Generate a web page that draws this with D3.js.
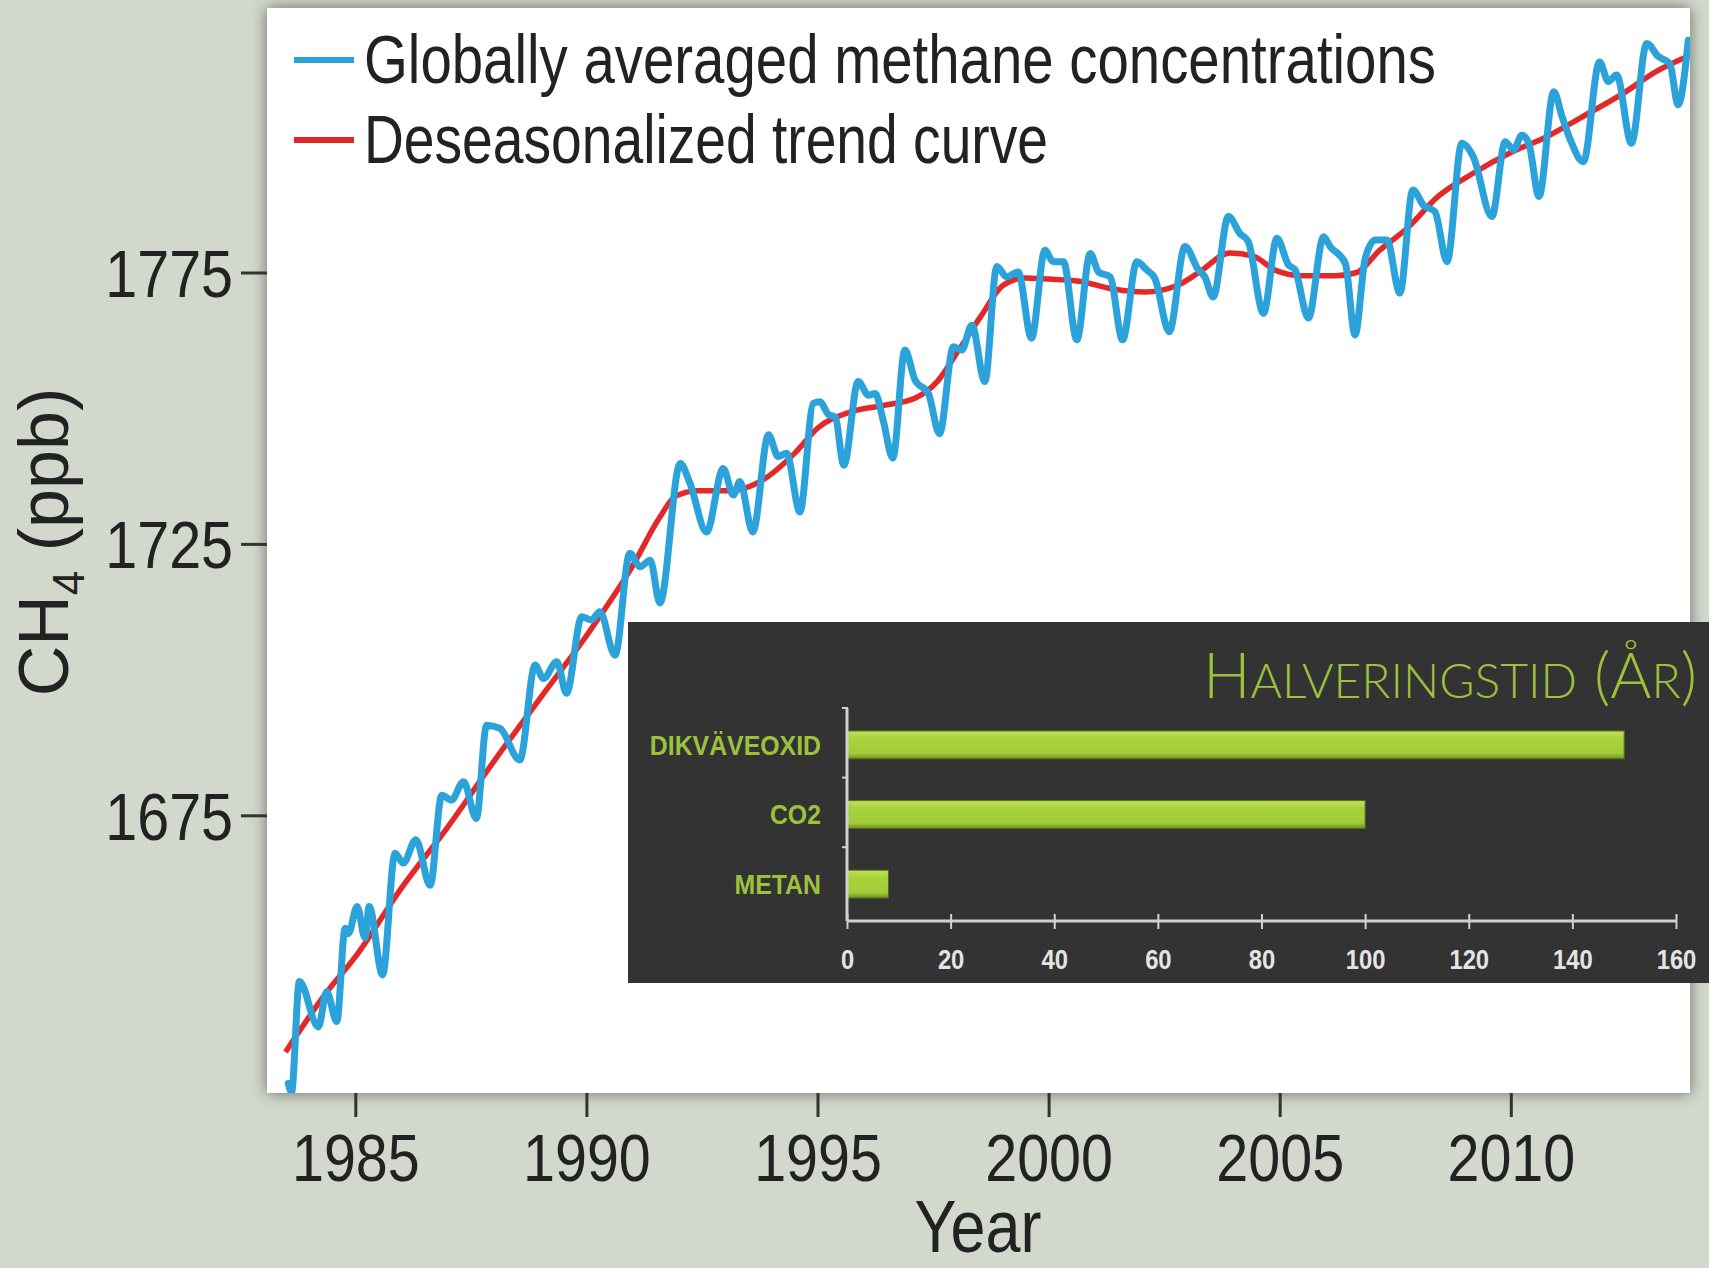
<!DOCTYPE html>
<html>
<head>
<meta charset="utf-8">
<script src="https://cdn.jsdelivr.net/npm/d3@7"></script>
<style>
  html, body { margin: 0; padding: 0; background: #d2d8cb; }
  svg { display: block; }
</style>
</head>
<body>
<svg id="chart" width="1709" height="1268"></svg>
<script>
// ---------------- DATA ----------------
const blueYears = [
  1983.55, 1983.62, 1983.79, 1984.20, 1984.38, 1984.60, 1984.78, 1984.85, 1985.04, 1985.21,
  1985.30, 1985.59, 1985.86, 1986.04, 1986.31, 1986.62, 1986.87, 1987.08, 1987.34, 1987.62,
  1987.84, 1988.13, 1988.56, 1988.89, 1989.07, 1989.36, 1989.57, 1989.90, 1990.11, 1990.29,
  1990.62, 1990.94, 1991.16, 1991.38, 1991.59, 1992.03, 1992.24, 1992.60, 1992.96, 1993.18,
  1993.32, 1993.60, 1993.94, 1994.15, 1994.33, 1994.62, 1994.91, 1995.05, 1995.24, 1995.38,
  1995.57, 1995.88, 1996.10, 1996.25, 1996.42, 1996.63, 1996.89, 1997.11, 1997.40, 1997.64,
  1997.94, 1998.12, 1998.34, 1998.62, 1998.88, 1999.09, 1999.34, 1999.63, 1999.92, 2000.10,
  2000.32, 2000.61, 2000.90, 2001.08, 2001.33, 2001.60, 2001.91, 2002.12, 2002.30, 2002.61,
  2002.95, 2003.24, 2003.38, 2003.56, 2003.89, 2004.14, 2004.32, 2004.65, 2004.94, 2005.19,
  2005.33, 2005.62, 2005.95, 2006.09, 2006.42, 2006.63, 2006.85, 2007.07, 2007.32, 2007.60,
  2007.88, 2008.11, 2008.36, 2008.62, 2008.94, 2009.19, 2009.59, 2009.88, 2010.06, 2010.24,
  2010.39, 2010.61, 2010.93, 2011.11, 2011.29, 2011.57, 2011.92, 2012.11, 2012.29, 2012.61,
  2012.94, 2013.19, 2013.44, 2013.62, 2013.84
];
const blueValues = [
  1625.6, 1624.0, 1644.4, 1636.0, 1642.5, 1637.0, 1654.2, 1653.2, 1658.2, 1652.4,
  1658.2, 1645.6, 1668.0, 1666.2, 1670.5, 1662.1, 1678.7, 1677.8, 1681.2, 1674.4,
  1691.6, 1691.0, 1685.2, 1702.7, 1700.2, 1703.3, 1697.5, 1711.6, 1711.0, 1712.5,
  1704.5, 1723.3, 1720.8, 1722.0, 1714.1, 1739.8, 1736.2, 1727.2, 1738.9, 1734.0,
  1736.5, 1727.2, 1745.1, 1741.1, 1741.7, 1730.9, 1750.9, 1751.2, 1748.8, 1748.4,
  1739.5, 1754.9, 1752.4, 1752.7, 1747.8, 1740.8, 1760.7, 1755.2, 1752.7, 1745.3,
  1761.3, 1760.7, 1765.3, 1754.9, 1776.1, 1774.2, 1775.1, 1762.9, 1779.1, 1777.0,
  1777.0, 1762.6, 1778.5, 1775.1, 1774.2, 1762.6, 1777.0, 1775.5, 1773.9, 1764.1,
  1779.8, 1775.5, 1774.2, 1770.5, 1785.3, 1782.2, 1780.7, 1767.5, 1781.3, 1776.4,
  1775.5, 1766.6, 1781.6, 1779.8, 1776.7, 1763.5, 1777.6, 1781.0, 1781.0, 1771.2,
  1790.2, 1787.4, 1786.2, 1777.0, 1798.8, 1796.3, 1785.3, 1799.1, 1797.6, 1800.3,
  1798.8, 1789.0, 1808.3, 1803.7, 1799.4, 1795.4, 1813.8, 1810.2, 1811.4, 1798.8,
  1817.2, 1814.8, 1813.5, 1805.9, 1817.8
];
const trendYears = [
  1983.49, 1984.39, 1985.00, 1985.99, 1986.98, 1987.97, 1989.01, 1990.02, 1990.99, 1991.58,
  1991.93, 1992.41, 1993.11, 1993.82, 1994.53, 1995.00, 1995.71, 1996.42, 1997.12, 1997.59,
  1998.07, 1998.54, 1999.01, 1999.48, 2000.00, 2000.66, 2001.37, 2002.08, 2002.78, 2003.25,
  2003.92, 2004.43, 2004.91, 2005.50, 2006.20, 2006.67, 2007.15, 2007.74, 2008.44, 2009.15,
  2010.00, 2010.80, 2011.51, 2012.45, 2013.16, 2013.82
];
const trendValues = [
  1631.4, 1642.5, 1648.9, 1661.5, 1672.6, 1684.6, 1696.7, 1708.3, 1720.8, 1729.8,
  1733.8, 1734.8, 1734.8, 1736.8, 1741.9, 1746.3, 1749.3, 1750.5, 1751.9, 1754.9,
  1760.9, 1767.0, 1772.6, 1774.0, 1773.8, 1773.4, 1772.0, 1771.4, 1772.6, 1775.0,
  1778.6, 1778.0, 1775.4, 1774.4, 1774.4, 1775.0, 1779.0, 1783.0, 1789.1, 1793.1,
  1797.1, 1800.1, 1803.5, 1808.1, 1812.1, 1814.8
];
const yTicks = [1675, 1725, 1775];
const xTicks = [1985, 1990, 1995, 2000, 2005, 2010];
const legendLabels = ["Globally averaged methane concentrations", "Deseasonalized trend curve"];

const insetTitle = "HALVERINGSTID (ÅR)";
const gasNames = ["DIKVÄVEOXID", "CO2", "METAN"];
const halfLives = [150, 100, 8];
const insetTicks = [0, 20, 40, 60, 80, 100, 120, 140, 160];

// ---------------- DRAW ----------------
const svg = d3.select("#chart");
const FONT = "'Liberation Sans Narrow', 'Arial Narrow', 'Liberation Sans', sans-serif";

// condense text horizontally (no narrow font available)
function narrow(sel, k) {
  sel.each(function () {
    const L = this.getComputedTextLength();
    d3.select(this).attr("textLength", (L * k).toFixed(1)).attr("lengthAdjust", "spacingAndGlyphs");
  });
}

const defs = svg.append("defs");
const shadow = defs.append("filter").attr("id", "shadow")
  .attr("x", "-5%").attr("y", "-5%").attr("width", "110%").attr("height", "110%");
shadow.append("feDropShadow").attr("dx", 0).attr("dy", 0)
  .attr("stdDeviation", 8).attr("flood-color", "#000").attr("flood-opacity", 0.5);

const panel = { x: 267, y: 8, w: 1423, h: 1085 };
defs.append("clipPath").attr("id", "clip").append("rect")
  .attr("x", panel.x).attr("y", panel.y).attr("width", panel.w).attr("height", panel.h);

const barGrad = defs.append("linearGradient").attr("id", "barGrad")
  .attr("x1", 0).attr("x2", 0).attr("y1", 0).attr("y2", 1);
barGrad.append("stop").attr("offset", "0%").attr("stop-color", "#c4e25a");
barGrad.append("stop").attr("offset", "25%").attr("stop-color", "#a9d23d");
barGrad.append("stop").attr("offset", "80%").attr("stop-color", "#a2cc38");
barGrad.append("stop").attr("offset", "100%").attr("stop-color", "#6f8f25");

svg.append("rect").attr("x", panel.x).attr("y", panel.y)
  .attr("width", panel.w).attr("height", panel.h)
  .attr("fill", "#ffffff").attr("filter", "url(#shadow)");

const x = d3.scaleLinear().domain([1985, 2010]).range([355.3, 1510.8]);
const y = d3.scaleLinear().domain([1675, 1775]).range([815.3, 272.5]);

// Y axis
const yAxis = svg.append("g").attr("transform", `translate(${panel.x},0)`)
  .call(d3.axisLeft(y).tickValues(yTicks).tickSize(26).tickPadding(8).tickFormat(d3.format("d")));
yAxis.select(".domain").remove();
yAxis.selectAll(".tick line").attr("stroke", "#333").attr("stroke-width", 3);
yAxis.selectAll(".tick text").attr("font-family", FONT).attr("font-size", 66)
  .attr("fill", "#222").attr("dy", "0.36em").call(narrow, 0.87);

// X axis
const xAxis = svg.append("g").attr("transform", `translate(0,${panel.y + panel.h})`)
  .call(d3.axisBottom(x).tickValues(xTicks).tickSize(24).tickPadding(40).tickFormat(d3.format("d")));
xAxis.select(".domain").remove();
xAxis.selectAll(".tick line").attr("stroke", "#333").attr("stroke-width", 3);
xAxis.selectAll(".tick text").attr("font-family", FONT).attr("font-size", 66)
  .attr("fill", "#222").attr("dy", "0.71em").attr("y", 41).call(narrow, 0.87);

// Axis titles
svg.append("text").attr("x", 978).attr("y", 1252).attr("text-anchor", "middle")
  .attr("font-family", FONT).attr("font-size", 74).attr("fill", "#222").text("Year")
  .call(narrow, 0.85);

const yl = svg.append("text").attr("transform", "translate(68,542) rotate(-90)")
  .attr("text-anchor", "middle").attr("font-family", FONT).attr("font-size", 70).attr("fill", "#222");
yl.append("tspan").text("CH");
yl.append("tspan").attr("font-size", 44).attr("dy", 16).text("4");
yl.append("tspan").attr("dy", -16).text(" (ppb)");

// Lines
const plot = svg.append("g").attr("clip-path", "url(#clip)");
const trendData = trendYears.map((t, i) => [t, trendValues[i]]);
const blueData = blueYears.map((t, i) => [t, blueValues[i]]);

plot.append("path").datum(trendData)
  .attr("d", d3.line().x(d => x(d[0])).y(d => y(d[1])).curve(d3.curveMonotoneX))
  .attr("fill", "none").attr("stroke", "#e3282a").attr("stroke-width", 5.5)
  .attr("stroke-linejoin", "round");

plot.append("path").datum(blueData)
  .attr("d", d3.line().x(d => x(d[0])).y(d => y(d[1])).curve(d3.curveMonotoneX))
  .attr("fill", "none").attr("stroke", "#2ba3da").attr("stroke-width", 7)
  .attr("stroke-linejoin", "round").attr("stroke-linecap", "round");

// Legend
const legColors = ["#2ba3da", "#e3282a"];
const legY = [60, 140];
const legWidths = [1072, 684];
legendLabels.forEach((lab, i) => {
  svg.append("line").attr("x1", 294).attr("x2", 354).attr("y1", legY[i]).attr("y2", legY[i])
    .attr("stroke", legColors[i]).attr("stroke-width", 6);
  svg.append("text").attr("x", 364).attr("y", legY[i] + 23)
    .attr("font-family", FONT).attr("font-size", 68).attr("fill", "#222").text(lab)
    .attr("textLength", legWidths[i]).attr("lengthAdjust", "spacingAndGlyphs");
});

// ---------------- INSET ----------------
svg.append("rect").attr("x", 628).attr("y", 622).attr("width", 1081).attr("height", 361)
  .attr("fill", "#333333");

const GREEN = "#9cc23c";
const title = svg.append("text").attr("x", 1697).attr("y", 698).attr("text-anchor", "end")
  .attr("font-family", "Lato, 'Open Sans', sans-serif").attr("font-weight", 300)
  .attr("fill", GREEN).attr("font-size", 63);
title.append("tspan").text(insetTitle.slice(0, 1));
title.append("tspan").attr("font-size", 48).text(insetTitle.slice(1, 13));
title.append("tspan").text(insetTitle.slice(13, 16));
title.append("tspan").attr("font-size", 48).text(insetTitle.slice(16, 17));
title.append("tspan").text(insetTitle.slice(17));

const bx = d3.scaleLinear().domain([0, 160]).range([847, 1676]);
const by = d3.scaleBand().domain(gasNames).range([708, 921]).paddingInner(0.6).paddingOuter(0.33);

svg.append("g").selectAll("rect").data(gasNames).join("rect")
  .attr("x", bx(0)).attr("y", d => by(d))
  .attr("width", (d, i) => bx(halfLives[i]) - bx(0)).attr("height", by.bandwidth())
  .attr("fill", "url(#barGrad)").attr("stroke", "#55701c").attr("stroke-width", 1);

const AX = "#d0d0d0";
svg.append("line").attr("x1", bx(0)).attr("x2", bx(0)).attr("y1", 708).attr("y2", 921)
  .attr("stroke", AX).attr("stroke-width", 3);
svg.append("line").attr("x1", bx(0)).attr("x2", bx(160)).attr("y1", 921).attr("y2", 921)
  .attr("stroke", AX).attr("stroke-width", 3);

// band boundary ticks
gasNames.forEach(g => {
  const yy = by(g) - by.paddingOuter() * by.step();
  svg.append("line").attr("x1", bx(0) - 5).attr("x2", bx(0) + 1).attr("y1", yy).attr("y2", yy)
    .attr("stroke", AX).attr("stroke-width", 2);
});

const bxAxis = svg.append("g").attr("transform", "translate(0,921)")
  .call(d3.axisBottom(bx).tickValues(insetTicks).tickSize(8).tickPadding(20));
bxAxis.select(".domain").remove();
bxAxis.selectAll(".tick line").attr("stroke", AX).attr("stroke-width", 2).attr("y1", -7);
bxAxis.selectAll(".tick text").attr("font-family", "'Liberation Sans', sans-serif")
  .attr("font-weight", "bold").attr("font-size", 28).attr("fill", "#e4e4e4").call(narrow, 0.85);

svg.append("g").selectAll("text").data(gasNames).join("text")
  .attr("x", 821).attr("y", d => by(d) + by.bandwidth() / 2).attr("dy", "0.36em")
  .attr("text-anchor", "end").attr("font-family", FONT).attr("font-weight", "bold")
  .attr("font-size", 27).attr("fill", GREEN).text(d => d).call(narrow, 0.92);
</script>
</body>
</html>
